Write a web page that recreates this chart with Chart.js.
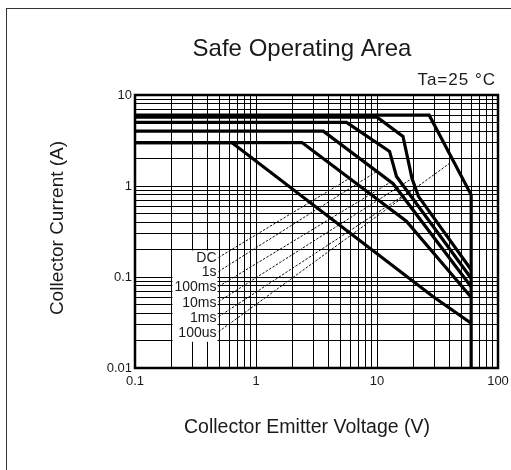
<!DOCTYPE html>
<html><head><meta charset="utf-8">
<script src="https://cdn.jsdelivr.net/npm/chart.js@4.4.0/dist/chart.umd.min.js"></script>
<style>
html,body{margin:0;padding:0;background:#fff;}
#wrap{position:relative;width:511px;height:470px;overflow:hidden;background:#fff;}
canvas{position:absolute;left:0;top:0;}
#frame{position:absolute;left:6px;top:8px;width:700px;height:700px;border-left:1.5px solid #333;border-top:1.5px solid #333;pointer-events:none;}
</style></head><body>
<div id="wrap"><canvas id="c" width="511" height="470"></canvas><div id="frame"></div></div>
<script>
// ---- data (Collector-Emitter Voltage V, Collector Current A) ----
const dcV   = [0.1, 0.63, 29, 60];
const dcI   = [3, 3, 0.061, 0.031];
const s1V   = [0.1, 2.4, 17.5, 60];
const s1I   = [3, 3, 0.41, 0.06];
const ms100V = [0.1, 3.6, 13.6, 60];
const ms100I = [4, 4, 1.06, 0.078];
const ms10V = [0.1, 5.6, 12.7, 14.5, 60];
const ms10I = [5, 5, 2.4, 1.27, 0.097];
const ms1V  = [0.1, 10, 16.4, 19.5, 22, 60];
const ms1I  = [5.7, 5.7, 3.5, 1.2, 0.77, 0.12];
const us100V = [0.1, 27, 60, 60];
const us100I = [6, 6, 0.8, 0.01];

// leader (dashed) lines: label end -> curve
const leaderNames = ['DC', '1s', '100ms', '10ms', '1ms', '100us'];
const leaderStartV = [0.49, 0.49, 0.49, 0.49, 0.49, 0.49];
const leaderStartI = [0.164, 0.115, 0.0786, 0.0536, 0.0366, 0.025];
const leaderEndV = [5.96, 9.9, 13.2, 18.7, 22.6, 39.9];
const leaderEndI = [1.22, 1.44, 1.12, 1.17, 1.03, 1.78];

const xTickValues = [0.1, 1, 10, 100];
const xTickLabels = ['0.1', '1', '10', '100'];
const yTickValues = [0.01, 0.1, 1, 10];
const yTickLabels = ['0.01', '0.1', '1', '10'];

const titleText = 'Safe Operating Area';
const condText = 'Ta=25 °C';
const xTitle = 'Collector Emitter Voltage (V)';
const yTitle = 'Collector Current (A)';

// ---- build ----
function pts(v, i){ return v.map((x, k) => ({x: x, y: i[k]})); }
function gridVals(lo, hi){
  const out = [];
  for (let e = lo; e < hi; e++) for (let m = 1; m < 10; m++) out.push(Number((m * Math.pow(10, e)).toPrecision(6)));
  out.push(Number(Math.pow(10, hi).toPrecision(6)));
  return out;
}
const gridX = gridVals(-1, 2);
const gridY = gridVals(-2, 1);
function lab(vals, labels, v){
  for (let k = 0; k < vals.length; k++) if (Math.abs(vals[k] - v) / vals[k] < 1e-6) return labels[k];
  return '';
}

const FONT = '"Liberation Sans", Arial, Helvetica, sans-serif';
const INK = '#1a1a1a';
const curve = (d) => ({data: d, borderColor: '#000', borderWidth: 3.2, pointRadius: 0, fill: false, tension: 0, borderJoinStyle: 'miter', borderCapStyle: 'butt'});
const datasets = [
  curve(pts(dcV, dcI)), curve(pts(s1V, s1I)), curve(pts(ms100V, ms100I)),
  curve(pts(ms10V, ms10I)), curve(pts(ms1V, ms1I)), curve(pts(us100V, us100I))
];
leaderNames.forEach((n, k) => {
  datasets.push({data: [{x: leaderStartV[k], y: leaderStartI[k]}, {x: leaderEndV[k], y: leaderEndI[k]}],
    borderColor: '#111', borderWidth: 1, borderDash: [2.5, 1.5], pointRadius: 0, fill: false, tension: 0});
});

const deco = {
  id: 'deco',
  beforeDatasetsDraw(chart){
    // white panel behind the leader labels
    const ctx = chart.ctx, xs = chart.scales.x, ys = chart.scales.y;
    const l = xs.getPixelForValue(0.2) + 1;
    const r = xs.getPixelForValue(leaderStartV[0]) - 1;
    const t = ys.getPixelForValue(leaderStartI[0]) - 7;
    const b = ys.getPixelForValue(leaderStartI[leaderStartI.length - 1]) + 10;
    ctx.save();
    ctx.fillStyle = '#fff';
    ctx.fillRect(l, t, r - l, b - t);
    ctx.restore();
  },
  afterDatasetsDraw(chart){
    const ctx = chart.ctx, a = chart.chartArea;
    ctx.save();
    ctx.strokeStyle = '#000'; ctx.lineWidth = 2.5;
    ctx.strokeRect(a.left, a.top, a.right - a.left, a.bottom - a.top);
    ctx.restore();
  },
  afterDraw(chart){
    const ctx = chart.ctx, xs = chart.scales.x, ys = chart.scales.y;
    ctx.save();
    ctx.fillStyle = INK;
    ctx.textBaseline = 'middle';
    ctx.textAlign = 'center';
    ctx.font = '24px ' + FONT;
    ctx.fillText(titleText, 302, 49);
    ctx.textAlign = 'right';
    ctx.font = '17px ' + FONT;
    try { ctx.letterSpacing = '1px'; } catch (e) {}
    ctx.fillText(condText, 496, 80);
    try { ctx.letterSpacing = '0px'; } catch (e) {}
    ctx.textAlign = 'center';
    ctx.font = '19.5px ' + FONT;
    ctx.fillText(xTitle, 307, 428);
    ctx.save();
    ctx.translate(58, 228);
    ctx.rotate(-Math.PI / 2);
    ctx.font = '19px ' + FONT;
    ctx.fillText(yTitle, 0, 0);
    ctx.restore();
    ctx.textAlign = 'right';
    ctx.font = '14px ' + FONT;
    leaderNames.forEach((n, k) => {
      ctx.fillText(n, xs.getPixelForValue(leaderStartV[k]) - 2, ys.getPixelForValue(leaderStartI[k]) + 1);
    });
    ctx.restore();
  }
};

new Chart(document.getElementById('c'), {
  type: 'line',
  data: {datasets: datasets},
  options: {
    responsive: false, animation: false, devicePixelRatio: 1,
    layout: {padding: {top: 95, right: 13, left: 0, bottom: 0}},
    plugins: {legend: {display: false}, title: {display: false}, tooltip: {enabled: false}},
    scales: {
      x: {
        type: 'logarithmic', min: 0.1, max: 100,
        afterBuildTicks: (s) => { s.ticks = gridX.map(v => ({value: v})); },
        afterFit: (s) => { s.height = 102; s.paddingLeft = 0; s.paddingRight = 0; },
        grid: {color: '#000', lineWidth: 1, drawTicks: false},
        border: {display: false},
        ticks: {autoSkip: false, maxRotation: 0, padding: 6, color: INK, font: {family: FONT, size: 13},
          callback: (v) => lab(xTickValues, xTickLabels, v)}
      },
      y: {
        type: 'logarithmic', min: 0.01, max: 10,
        afterBuildTicks: (s) => { s.ticks = gridY.map(v => ({value: v})); },
        afterFit: (s) => { s.width = 135; s.paddingTop = 0; s.paddingBottom = 0; },
        grid: {color: '#000', lineWidth: 1, drawTicks: false},
        border: {display: false},
        ticks: {autoSkip: false, padding: 3, color: INK, font: {family: FONT, size: 13},
          callback: (v) => lab(yTickValues, yTickLabels, v)}
      }
    }
  },
  plugins: [deco]
});
</script>
</body></html>
